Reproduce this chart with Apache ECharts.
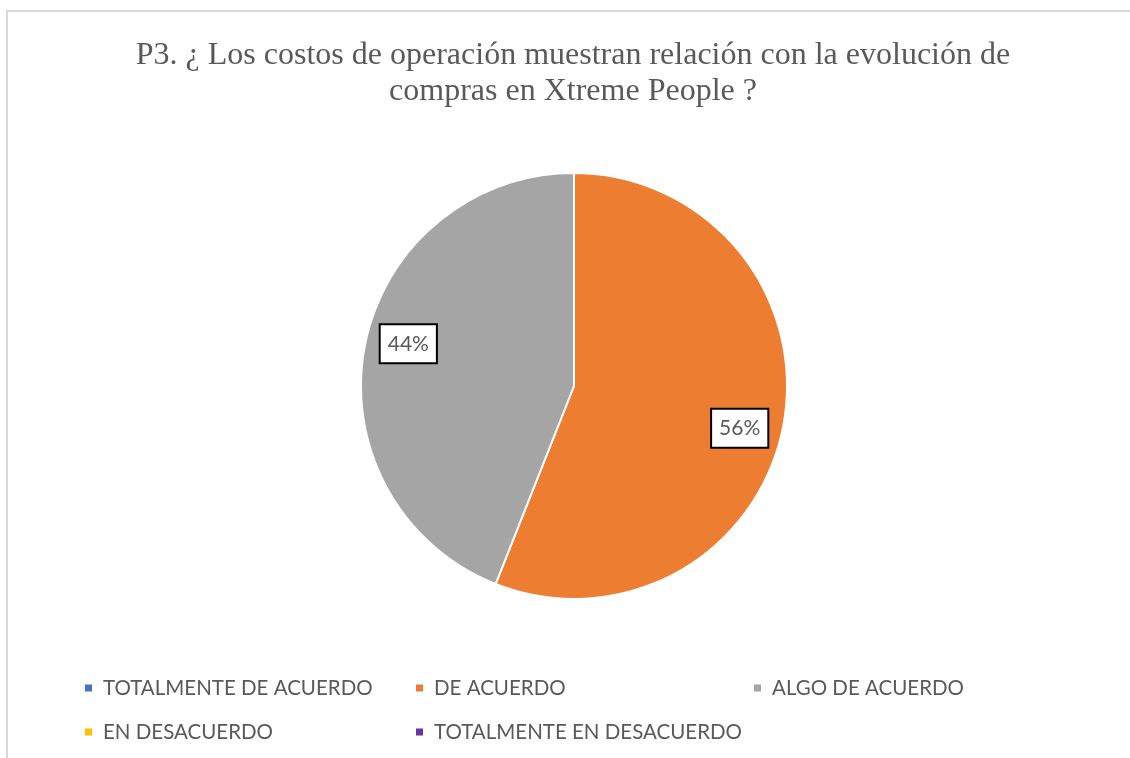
<!DOCTYPE html>
<html>
<head>
<meta charset="utf-8">
<script src="https://cdn.jsdelivr.net/npm/echarts@6/dist/echarts.min.js"></script>
<style>
  html,body{margin:0;padding:0;background:#fff;}
  #chart{width:1130px;height:758px;}
</style>
</head>
<body>
<div id="chart"></div>
<script>
/* P3 — costos de operación vs evolución de compras */
const TITULO = "P3. ¿ Los costos de operación muestran relación con la evolución de\ncompras en Xtreme People ?";
const CATEGORIAS = ["TOTALMENTE DE ACUERDO","DE ACUERDO","ALGO DE ACUERDO","EN DESACUERDO","TOTALMENTE EN DESACUERDO"];
const VALORES = [0, 56, 44, 0, 0];
const COLORES = ["#4472C4","#ED7D31","#A5A5A5","#FFC000","#7030A0"];

const GRIS = "#595959";
const datos = CATEGORIAS.map((c,i)=>({name:c, value:VALORES[i], itemStyle:{color:COLORES[i]}}));
const etiquetas = CATEGORIAS.map((c,i)=>({name:c, value:VALORES[i], label:{show:VALORES[i]>0}}));

const leyenda = (left, nombres) => ({
  left, top: 672, orient:"vertical", itemGap: 22,
  icon:"rect", itemWidth:9, itemHeight:9,
  selectedMode:false,
  data: nombres,
  textStyle:{fontFamily:"Lato", fontSize:20.5, color:GRIS, lineHeight:22, padding:[0,0,0,5]}
});

const chart = echarts.init(document.getElementById("chart"));
chart.setOption({
  animation:false,
  color: COLORES,
  title:{
    text: TITULO, left:568, textAlign:"center", top:33,
    textStyle:{fontFamily:"Liberation Serif", fontWeight:"normal", fontSize:32, lineHeight:36, color:GRIS}
  },
  legend:[
    leyenda(78, [CATEGORIAS[0], CATEGORIAS[3]]),
    leyenda(409, [CATEGORIAS[1], CATEGORIAS[4]]),
    leyenda(747, [CATEGORIAS[2]])
  ],
  graphic:[{type:"rect", shape:{x:7, y:11, width:1300, height:900}, style:{fill:null, stroke:"#d9d9d9", lineWidth:2}, silent:true, z:-1}],
  series:[
    {
      type:"pie", center:[574,386], radius:[0,213],
      startAngle:90, clockwise:true,
      data: datos,
      itemStyle:{borderColor:"#fff", borderWidth:2},
      label:{show:false}, labelLine:{show:false},
      emphasis:{disabled:true}
    },
    {
      // anillo transparente solo para ubicar las etiquetas (como las pone Excel)
      type:"pie", center:[574,386], radius:[126,210],
      startAngle:86.5, clockwise:true, silent:true,
      data: etiquetas,
      itemStyle:{color:"rgba(0,0,0,0)"},
      label:{
        position:"inside", formatter:p=>Math.round(p.value)+"%",
        fontFamily:"Lato", fontSize:21, color:GRIS,
        backgroundColor:"#fff", borderColor:"#000", borderWidth:2,
        padding:[9,7,7,7]
      },
      labelLine:{show:false},
      emphasis:{disabled:true}
    }
  ]
});
</script>
</body>
</html>
